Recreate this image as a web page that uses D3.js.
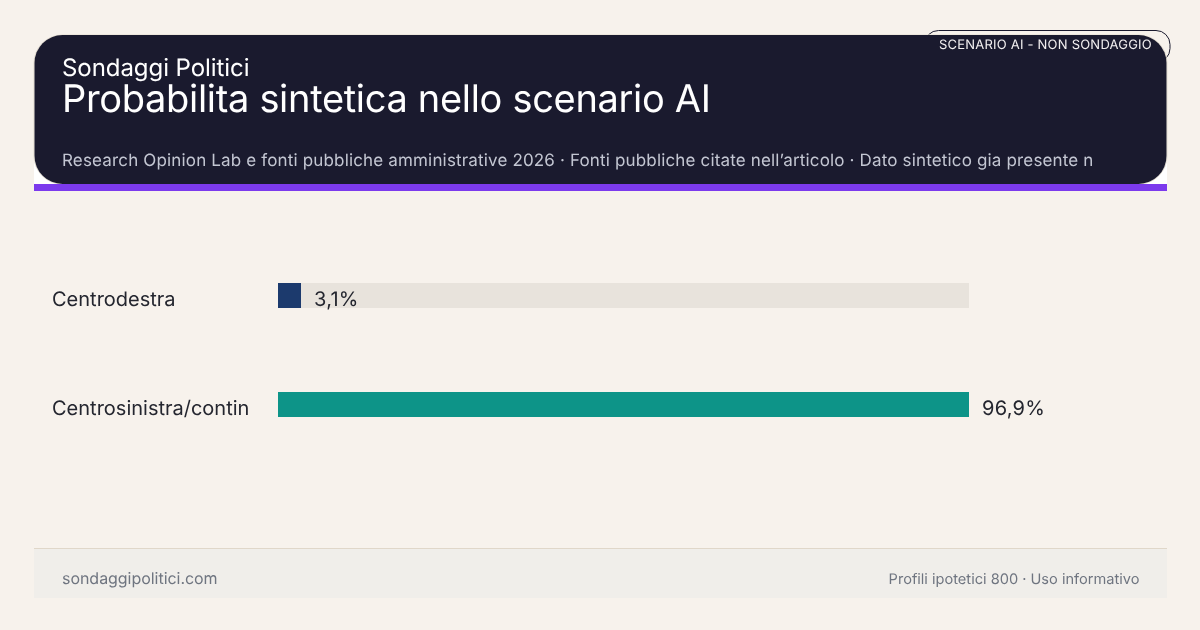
<!DOCTYPE html>
<html>
<head>
<meta charset="utf-8">
<script src="https://cdn.jsdelivr.net/npm/d3@7"></script>
<style>
html,body{margin:0;padding:0;background:#f7f2ec;}
svg{display:block;font-family:Inter,sans-serif;text-rendering:geometricPrecision;will-change:transform;}
</style>
</head>
<body>
<svg id="c" width="1200" height="630"></svg>
<script>
const categories = ["Centrodestra", "Centrosinistra/contin"];
const values = [3.1, 96.9];
const valueLabels = ["3,1%", "96,9%"];
const barColors = ["#1c3a6d", "#0d9488"];
const kicker = "Sondaggi Politici";
const title = "Probabilita sintetica nello scenario AI";
const subtitle = "Research Opinion Lab e fonti pubbliche amministrative 2026 · Fonti pubbliche citate nell’articolo · Dato sintetico gia presente n";
const badge = "SCENARIO AI - NON SONDAGGIO";
const footLeft = "sondaggipolitici.com";
const footRight = "Profili ipotetici 800 · Uso informativo";

const svg = d3.select("#c");
const x = d3.scaleLinear().domain([0, 96.9]).range([278, 969]);
const barH = 25, step = 109;
const y = d3.scaleBand().domain(categories).range([283, 283 + step + barH]).paddingInner(1 - barH / step).paddingOuter(0);
const barW = d => Math.max(x(d) - x(0), 23);

// header
svg.append("rect").attr("x",924.5).attr("y",30.5).attr("width",245.5).attr("height",32).attr("rx",14).attr("ry",14)
  .attr("fill","none").attr("stroke","#1a1a2e").attr("stroke-width",1);
svg.append("rect").attr("x",34).attr("y",155).attr("width",1133).attr("height",30).attr("fill","#ffffff");
svg.append("rect").attr("x",34).attr("y",35).attr("width",1133).attr("height",149).attr("rx",28).attr("ry",28)
  .attr("fill","none").attr("stroke","#e3dccf").attr("stroke-width",1);
svg.append("rect").attr("x",34.5).attr("y",35).attr("width",1132).attr("height",149).attr("rx",28).attr("ry",28)
  .attr("fill","#1a1a2e");
svg.append("rect").attr("x",34).attr("y",184).attr("width",1133).attr("height",7).attr("fill","#7c3aed");

svg.append("text").attr("x",1152).attr("y",49).attr("text-anchor","end").attr("font-size",13).attr("letter-spacing",0.22).attr("fill","#f2eff0").text(badge);
svg.append("text").attr("x",62).attr("y",76).attr("font-size",24).attr("letter-spacing",-0.06).attr("fill","#ffffff").text(kicker);
svg.append("text").attr("x",62).attr("y",112).attr("font-size",38).attr("letter-spacing",-0.32).attr("fill","#ffffff").text(title);
svg.append("text").attr("x",62).attr("y",166).attr("font-size",17).attr("letter-spacing",0.16).attr("fill","#c3c6d2").text(subtitle);

// bars
const g = svg.append("g");
g.selectAll("rect.track").data(categories).join("rect").attr("class","track")
  .attr("x",x(0)).attr("y",d=>y(d)).attr("width",x(96.9)-x(0)).attr("height",y.bandwidth()).attr("fill","#e8e3dc");
g.selectAll("rect.bar").data(values).join("rect").attr("class","bar")
  .attr("x",x(0)).attr("y",(d,i)=>y(categories[i])).attr("width",barW).attr("height",y.bandwidth())
  .attr("fill",(d,i)=>barColors[i]);
g.selectAll("text.cat").data(categories).join("text").attr("class","cat")
  .attr("x",52).attr("y",d=>y(d)+y.bandwidth()/2+10.5).attr("font-size",20).attr("fill","#24262f").text(d=>d);
g.selectAll("text.val").data(values).join("text").attr("class","val")
  .attr("x",d=>x(0)+barW(d)+13).attr("y",(d,i)=>y(categories[i])+y.bandwidth()/2+10.5)
  .attr("font-size",20).attr("letter-spacing",0.25).attr("fill","#24262f").text((d,i)=>valueLabels[i]);

// footer
svg.append("rect").attr("x",34).attr("y",548).attr("width",1133).attr("height",50).attr("fill","#f0eeea");
svg.append("rect").attr("x",34).attr("y",548).attr("width",1133).attr("height",1).attr("fill","#e0d7c9");
svg.append("text").attr("x",62).attr("y",584).attr("font-size",16).attr("letter-spacing",-0.04).attr("fill","#6f7580").text(footLeft);
svg.append("text").attr("x",1139.5).attr("y",584).attr("text-anchor","end").attr("font-size",14.6).attr("fill","#6f7580").text(footRight);
</script>
</body>
</html>
